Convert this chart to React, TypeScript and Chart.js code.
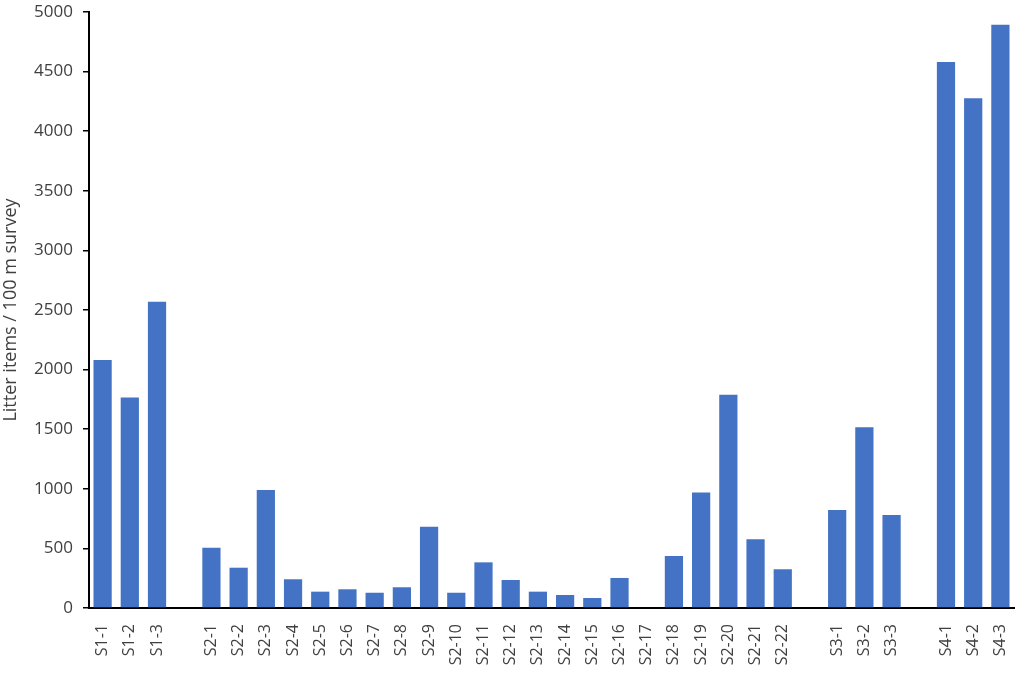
import React, { useEffect, useRef } from "react";
import { Chart, registerables } from "chart.js";

Chart.register(...registerables);

const categories = [
  "S1-1", "S1-2", "S1-3", "",
  "S2-1", "S2-2", "S2-3", "S2-4", "S2-5", "S2-6", "S2-7", "S2-8", "S2-9", "S2-10", "S2-11",
  "S2-12", "S2-13", "S2-14", "S2-15", "S2-16", "S2-17", "S2-18", "S2-19", "S2-20", "S2-21", "S2-22", "",
  "S3-1", "S3-2", "S3-3", "",
  "S4-1", "S4-2", "S4-3",
];

const litterValues: (number | null)[] = [
  2080, 1765, 2570, null,
  506, 338, 990, 241, 137, 157, 128, 174, 682, 128, 383,
  235, 137, 109, 84, 252, 0, 436, 970, 1790, 576, 325, null,
  822, 1516, 780, null,
  4580, 4276, 4894,
];

const yTitle = "Litter items / 100 m survey";
const yMin = 0;
const yMax = 5000;
const yStep = 500;

export default function App() {
  const canvasRef = useRef<HTMLCanvasElement | null>(null);

  useEffect(() => {
    if (!canvasRef.current) return;
    const font = "'Open Sans', 'Liberation Sans', sans-serif";
    const chart = new Chart(canvasRef.current, {
      type: "bar",
      data: {
        labels: categories,
        datasets: [
          {
            data: litterValues,
            backgroundColor: "#4472C4",
            borderWidth: 0,
            barPercentage: 0.67,
            categoryPercentage: 1,
          },
        ],
      },
      options: {
        animation: false,
        responsive: false,
        maintainAspectRatio: false,
        layout: { padding: { top: 12, right: 7, left: 0, bottom: 0 } },
        plugins: { legend: { display: false }, tooltip: { enabled: false } },
        scales: {
          x: {
            grid: { display: false },
            border: { display: true, color: "#000000", width: 2 },
            ticks: {
              color: "#404040",
              font: { family: font, size: 16 },
              minRotation: 90,
              maxRotation: 90,
              autoSkip: false,
              padding: 8,
            },
            afterFit: (scale: any) => {
              scale.height = 69;
              scale.paddingLeft = 0;
              scale.paddingRight = 0;
            },
          },
          y: {
            min: yMin,
            max: yMax,
            grid: {
              display: true,
              drawOnChartArea: false,
              drawTicks: true,
              tickLength: 6,
              color: "#000000",
              lineWidth: 1.5,
            },
            border: { display: true, color: "#000000", width: 2 },
            ticks: {
              stepSize: yStep,
              color: "#404040",
              font: { family: font, size: 17 },
              padding: 10,
              callback: (v: any) => String(v),
            },
            title: {
              display: true,
              text: yTitle,
              color: "#404040",
              font: { family: font, size: 18 },
              padding: { top: 0, bottom: 0 },
            },
            afterFit: (scale: any) => {
              scale.width = 89;
              scale.paddingTop = 0;
              scale.paddingBottom = 0;
            },
          },
        },
      },
    });
    return () => chart.destroy();
  }, []);

  return (
    <div style={{ position: "fixed", left: 0, top: 0, width: 1021, height: 677, background: "#ffffff" }}>
      <canvas ref={canvasRef} width={1021} height={677} style={{ width: 1021, height: 677 }} />
    </div>
  );
}
